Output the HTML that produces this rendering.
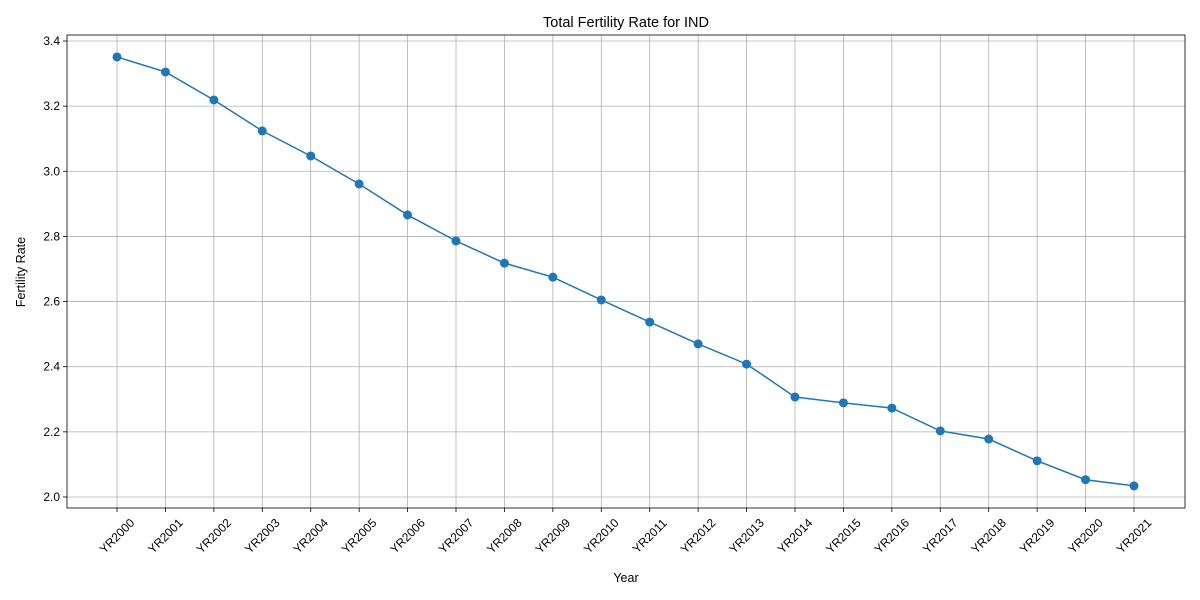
<!DOCTYPE html>
<html><head><meta charset="utf-8"><style>
html,body{margin:0;padding:0;background:#fff;}
svg{display:block;font-family:"Liberation Sans","DejaVu Sans",sans-serif;}
</style></head><body>
<svg id="chart" width="1200" height="600">
<rect width="1200" height="600" fill="#fff"/>
<text x="626" y="27" text-anchor="middle" font-size="14.5">Total Fertility Rate for IND</text>
<text x="626" y="582" text-anchor="middle" font-size="12.5">Year</text>
<text transform="translate(25,272) rotate(-90)" text-anchor="middle" font-size="12.5">Fertility Rate</text>
<g id="grid"></g><g id="axes"></g><g id="series"></g>
</svg>
<script>
const categories = ["YR2000","YR2001","YR2002","YR2003","YR2004","YR2005","YR2006","YR2007","YR2008","YR2009","YR2010","YR2011","YR2012","YR2013","YR2014","YR2015","YR2016","YR2017","YR2018","YR2019","YR2020","YR2021"];
const values = [3.351,3.305,3.219,3.124,3.047,2.961,2.866,2.786,2.718,2.675,2.605,2.537,2.470,2.408,2.307,2.289,2.273,2.203,2.178,2.111,2.053,2.034];
const yTicks = [2.0,2.2,2.4,2.6,2.8,3.0,3.2,3.4];
const L=67,R=1185,T=35,B=508;
const x0=117,x1=1134;
function xs(i){return x0+(x1-x0)*i/(categories.length-1);}
function ys(v){return 497-(v-2.0)*(456/1.4);}
const NS="http://www.w3.org/2000/svg";
function mk(tag,attrs,parent,text){const e=document.createElementNS(NS,tag);for(const k in attrs)e.setAttribute(k,attrs[k]);if(text!==undefined)e.textContent=text;parent.appendChild(e);return e;}
const grid=document.getElementById('grid'),axes=document.getElementById('axes'),series=document.getElementById('series');
categories.forEach((c,i)=>{
  const x=xs(i);
  const g=mk('line',{x1:x,x2:x,y1:T,y2:B,stroke:'#b0b0b0','stroke-width':0.8},grid);
  
  
  mk('line',{x1:x,x2:x,y1:B,y2:B+4,stroke:'#000','stroke-width':0.8},axes);
  const t=mk('text',{x:0,y:4,'font-size':12,'text-anchor':'middle',transform:`translate(${x},${B+28}) rotate(-45)`},axes,c);
  
  
});
yTicks.forEach(v=>{
  const y=ys(v);
  const g=mk('line',{x1:L,x2:R,y1:y,y2:y,stroke:'#b0b0b0','stroke-width':0.8},grid);
  
  
  mk('line',{x1:L-4,x2:L,y1:y,y2:y,stroke:'#000','stroke-width':0.8},axes);
  const t=mk('text',{x:L-7,y:y+4,'font-size':12,'text-anchor':'end'},axes,v.toFixed(1));
  
  
});
const frame=mk('rect',{x:L,y:T,width:R-L,height:B-T,fill:'none',stroke:'#000','stroke-width':0.8},axes);


const pts=values.map((v,i)=>xs(i)+','+ys(v)).join(' ');
const line=mk('polyline',{points:pts,fill:'none',stroke:'#1f77b4','stroke-width':1.5},series);


values.forEach((v,i)=>{
  const p=mk('circle',{cx:xs(i),cy:ys(v),r:4.5,fill:'#1f77b4'},series);
  
  
});
</script>
</body></html>
